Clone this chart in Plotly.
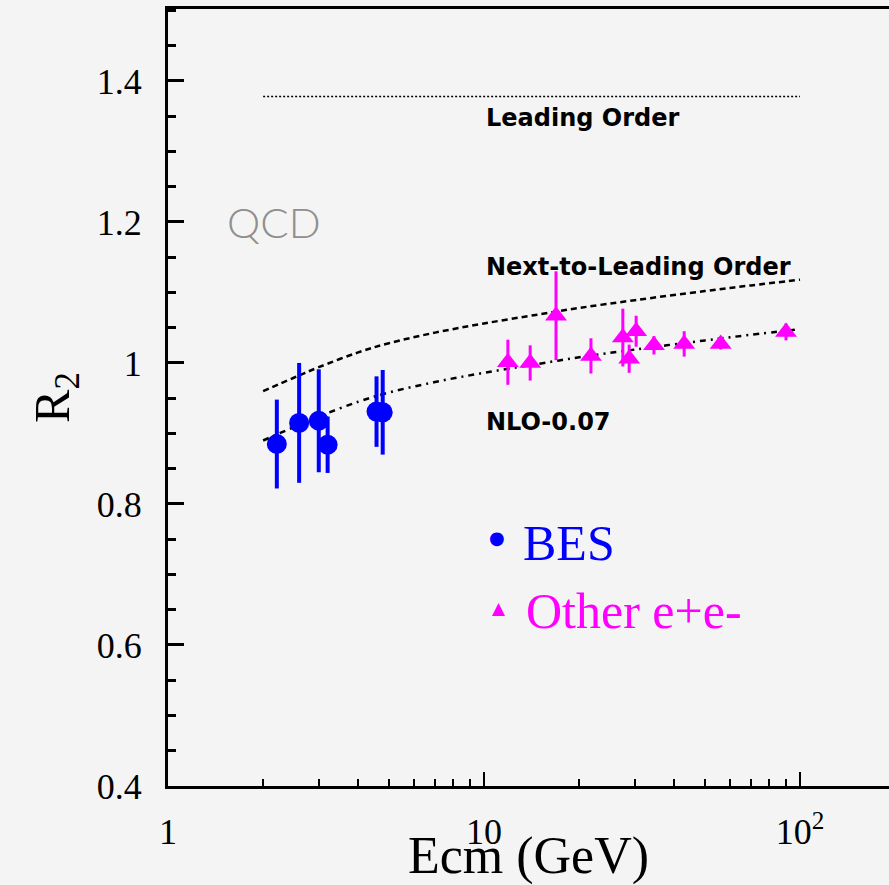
import plotly.graph_objects as go

# ---- data ----
bes_x = [2.21, 2.60, 3.00, 3.20, 4.57, 4.78]
bes_y = [0.885, 0.915, 0.918, 0.884, 0.931, 0.930]
bes_err = [0.063, 0.085, 0.073, 0.040, 0.050, 0.060]

oth_x = [11.9, 14.0, 16.9, 21.8, 27.5, 28.8, 30.3, 34.5, 43.0, 56.1, 90.3]
oth_y = [1.001, 1.000, 1.067, 1.010, 1.036, 1.006, 1.045, 1.025, 1.027, 1.027, 1.044]
oth_err = [0.032, 0.025, 0.063, 0.025, 0.041, 0.020, 0.022, 0.013, 0.018, 0.008, 0.012]

curve_x = [2, 2.5, 3, 4, 5, 7, 10, 15, 20, 30, 50, 70, 100]
nlo_y = [0.960, 0.979, 0.994, 1.015, 1.028, 1.043, 1.056, 1.069, 1.078, 1.089, 1.102, 1.110, 1.118]
nlo_m007_y = [0.890, 0.909, 0.924, 0.945, 0.958, 0.973, 0.986, 0.999, 1.008, 1.019, 1.032, 1.040, 1.048]
lo_x = [2, 100]
lo_y = [1.378, 1.378]

ytick_vals = [0.4, 0.6, 0.8, 1.0, 1.2, 1.4]
ytick_text = ["0.4", "0.6", "0.8", "1", "1.2", "1.4"]
xtick_vals = [1, 10, 100]
xtick_text = ["1", "10", "10<sup>2</sup>"]
xminor_vals = [2, 3, 4, 5, 6, 7, 8, 9, 20, 30, 40, 50, 60, 70, 80, 90]

SERIF = "Liberation Serif, Times New Roman, serif"
SANS = "DejaVu Sans, Liberation Sans, sans-serif"
BG = "#f4f4f4"

fig = go.Figure()

fig.add_trace(go.Scatter(x=lo_x, y=lo_y, mode="lines",
                         line=dict(color="black", width=1.5, dash="2px,2px"),
                         showlegend=False, hoverinfo="skip"))
fig.add_trace(go.Scatter(x=curve_x, y=nlo_y, mode="lines",
                         line=dict(color="black", width=2.5, dash="6px,4px", shape="spline"),
                         showlegend=False))
fig.add_trace(go.Scatter(x=curve_x, y=nlo_m007_y, mode="lines",
                         line=dict(color="black", width=2.5, dash="6px,5px,2px,5px", shape="spline"),
                         showlegend=False))

fig.add_trace(go.Scatter(x=bes_x, y=bes_y, mode="markers", name="BES",
                         marker=dict(symbol="circle", size=20, color="#0000ff"),
                         error_y=dict(type="data", array=bes_err, color="#0000ff",
                                      thickness=4, width=0),
                         showlegend=False))
fig.add_trace(go.Scatter(x=oth_x, y=oth_y, mode="markers", name="Other e+e-",
                         marker=dict(symbol="triangle-up", size=19, color="#ff00ff"),
                         error_y=dict(type="data", array=oth_err, color="#ff00ff",
                                      thickness=3, width=0),
                         showlegend=False))

ann = [
    dict(x=1.0, y=1.348, text="Leading Order", xanchor="left",
         font=dict(family=SANS, size=24, color="black", weight="bold")),
    dict(x=1.0, y=1.136, text="Next-to-Leading Order", xanchor="left",
         font=dict(family=SANS, size=24, color="black", weight="bold")),
    dict(x=1.0, y=0.916, text="NLO-0.07", xanchor="left",
         font=dict(family=SANS, size=24, color="black", weight="bold")),
    dict(x=0.18, y=1.2, text="QCD", xanchor="left",
         font=dict(family="Lato, Liberation Sans, sans-serif", size=42, color="#8f8f8f", weight=300)),
    dict(x=1.040, y=0.752, text="●", xanchor="center",
         font=dict(family=SANS, size=18, color="#0000ff")),
    dict(x=1.117, y=0.745, text="BES", xanchor="left",
         font=dict(family=SERIF, size=50, color="#0000ff")),
    dict(x=1.049, y=0.653, text="▲", xanchor="center",
         font=dict(family=SANS, size=17, color="#ff00ff")),
    dict(x=1.127, y=0.648, text="Other e+e-", xanchor="left",
         font=dict(family=SERIF, size=50, color="#ff00ff")),
]
for a in ann:
    a.update(xref="x", yref="y", showarrow=False, yanchor="middle")

fig.update_layout(
    width=889, height=885,
    margin=dict(l=168, r=0, t=9, b=99),
    paper_bgcolor=BG, plot_bgcolor=BG,
    annotations=ann,
    showlegend=False,
)
fig.update_xaxes(
    type="log", range=[0, 2.2816], automargin=False,
    showgrid=False, zeroline=False,
    showline=True, linecolor="black", linewidth=3, mirror=True,
    ticks="inside", ticklen=14, tickwidth=2, tickcolor="black",
    tickvals=xtick_vals, ticktext=xtick_text,
    tickfont=dict(family=SERIF, size=36, color="black"),
    ticklabelstandoff=12,
    minor=dict(ticks="inside", ticklen=7, tickwidth=2, tickcolor="black",
               tickvals=xminor_vals, showgrid=False),
    title=dict(text="Ecm (GeV)", font=dict(family=SERIF, size=52, color="black"), standoff=0),
)
fig.update_yaxes(
    range=[0.4, 1.502], automargin=False,
    showgrid=False, zeroline=False,
    showline=True, linecolor="black", linewidth=3,
    ticks="inside", ticklen=16, tickwidth=3, tickcolor="black",
    tickvals=ytick_vals, ticktext=ytick_text,
    tickfont=dict(family=SERIF, size=36, color="black"),
    ticklabelstandoff=16,
    minor=dict(ticks="inside", ticklen=8, tickwidth=3, tickcolor="black",
               dtick=0.05, showgrid=False),
    title=dict(text="R<sub>2</sub>", font=dict(family=SERIF, size=50, color="black"), standoff=12),
)

fig.write_html("out.html")
